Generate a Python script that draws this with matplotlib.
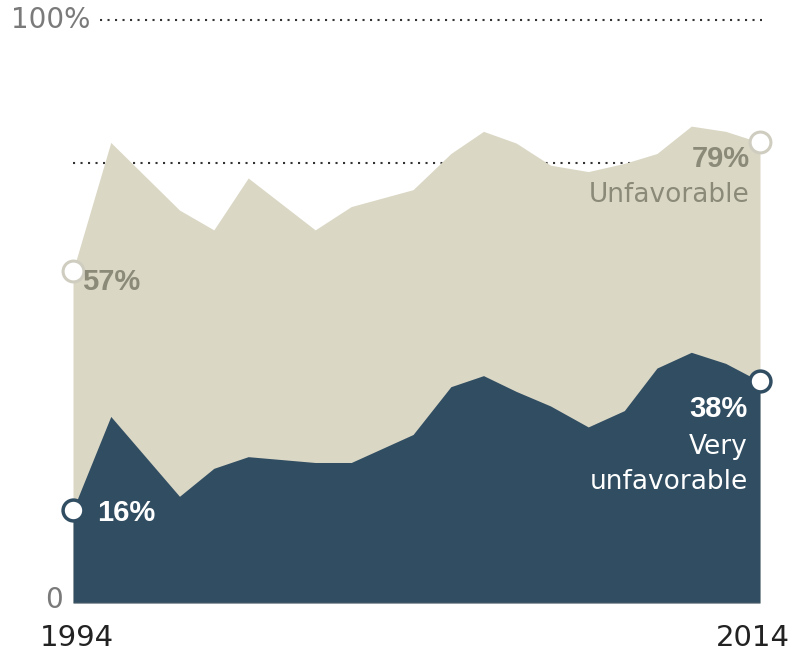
import matplotlib.pyplot as plt
import numpy as np

# survey dates (fractional years) and shares (%)
years = [1994, 1995.1, 1997.1, 1998.1, 1999.1, 2001.05, 2002.1, 2003.9, 2005,
         2005.95, 2006.9, 2007.9, 2009, 2010.05, 2011, 2012, 2013, 2014]
unfavorable = [57, 79, 67.4, 64, 72.9, 64, 68, 70.9, 77.1,
               80.9, 78.9, 75.1, 74, 75.4, 77.1, 81.8, 80.9, 79]
very_unfavorable = [16, 32, 18.3, 23.1, 25.1, 24.1, 24.1, 28.9, 37.1,
                    39, 36.3, 33.8, 30.2, 33, 40.3, 43, 41.1, 38]

beige = '#dad7c5'
navy = '#304d62'
olive = '#8b8a79'

plt.rcParams['font.family'] = ['DejaVu Sans']
bold = ['Liberation Sans', 'DejaVu Sans']

fig = plt.figure(figsize=(7.95, 6.52), dpi=100)
ax = fig.add_axes([73/795, 49/652, 687/795, 583/652])
ax.set_xlim(1994, 2014)
ax.set_ylim(0, 100)
ax.axis('off')

# reference lines
ax.plot([1994.8, 2014.05], [100, 100], color='#333333', lw=1.5,
        linestyle=(0, (1, 2.6)), clip_on=False, zorder=1)
ax.plot([1994, 2014], [75.4, 75.4], color='#333333', lw=1.5,
        linestyle=(0, (1, 2.6)), zorder=1)

ax.fill_between(years, 0, unfavorable, color=beige, lw=0, zorder=2)
ax.fill_between(years, 0, very_unfavorable, color=navy, lw=0, zorder=3)
ax.plot([1994, 2014], [0, 0], color='#777777', lw=1, zorder=4)

# end markers
ax.plot([years[0], years[-1]], [unfavorable[0], unfavorable[-1]], 'o', ms=15,
        mfc='white', mec='#cfcdc0', mew=2.2, clip_on=False, zorder=5)
ax.plot([years[0], years[-1]], [very_unfavorable[0], very_unfavorable[-1]], 'o',
        ms=15, mfc='white', mec=navy, mew=2.5, clip_on=False, zorder=5)

# labels
ax.text(1994.25, unfavorable[0] - 1.9, '57%', color=olive, fontsize=21,
        fontweight='bold', family=bold, ha='left', va='center', zorder=6)
ax.text(1994.7, very_unfavorable[0] - 0.5, '16%', color='white', fontsize=21,
        fontweight='bold', family=bold, ha='left', va='center', zorder=6)
ax.text(2013.7, 76.2, '79%', color=olive, fontsize=21, fontweight='bold',
        family=bold, ha='right', va='center', zorder=6)
ax.text(2013.7, 70.0, 'Unfavorable', color=olive, fontsize=19,
        ha='right', va='center', zorder=6)
ax.text(2013.65, 33.2, '38%', color='white', fontsize=21, fontweight='bold',
        family=bold, ha='right', va='center', zorder=6)
ax.text(2013.65, 26.8, 'Very', color='white', fontsize=19,
        ha='right', va='center', zorder=6)
ax.text(2013.65, 20.8, 'unfavorable', color='white', fontsize=19,
        ha='right', va='center', zorder=6)

# axis text
ax.text(1994.5, 100, '100%', color='#7a7a7a', fontsize=20,
        ha='right', va='center', clip_on=False)
ax.text(1993.7, 0.5, '0', color='#7a7a7a', fontsize=20,
        ha='right', va='center', clip_on=False)
ax.text(1994.1, -6, '1994', color='#222222', fontsize=21,
        ha='center', va='center', clip_on=False)
ax.text(2014.87, -6, '2014', color='#222222', fontsize=21,
        ha='right', va='center', clip_on=False)

fig.savefig('out.png', dpi=100, facecolor='white')
